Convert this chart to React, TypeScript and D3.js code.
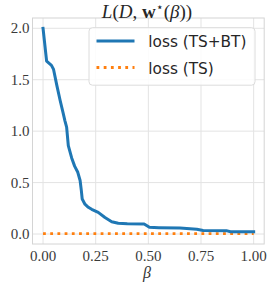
import { useEffect, useRef } from "react"
import * as d3 from "d3"

const betaTS_BT = [0, 0.017, 0.04, 0.05, 0.065, 0.081, 0.095, 0.104, 0.112, 0.12, 0.136, 0.15, 0.165, 0.176, 0.182, 0.186, 0.199, 0.215, 0.231, 0.262, 0.294, 0.326, 0.357, 0.4, 0.48, 0.505, 0.55, 0.65, 0.73, 0.76, 0.87, 0.89, 0.95, 1.0]
const lossTS_BT = [2.0, 1.68, 1.64, 1.6, 1.45, 1.3, 1.18, 1.1, 1.04, 0.86, 0.74, 0.66, 0.6, 0.52, 0.42, 0.34, 0.29, 0.26, 0.24, 0.21, 0.16, 0.12, 0.105, 0.1, 0.097, 0.065, 0.062, 0.058, 0.047, 0.035, 0.033, 0.022, 0.022, 0.022]
const betaTS = [0, 1]
const lossTS = [0.003, 0.003]

const xTicks = [0, 0.25, 0.5, 0.75, 1.0]
const yTicks = [0, 0.5, 1.0, 1.5, 2.0]
const legendLabels = ["loss (TS+BT)", "loss (TS)"]

const BLUE = "#1f77b4"
const ORANGE = "#ff7f0e"

export default function App() {
  const svgRef = useRef<SVGSVGElement | null>(null)

  useEffect(() => {
    document.body.style.margin = "0"
    if (!svgRef.current) return
    const svg = d3.select(svgRef.current)
    svg.selectAll("*").remove()

    const width = 269
    const height = 282
    const box = { left: 32.5, right: 264.2, top: 18, bottom: 244 }

    svg.attr("width", width).attr("height", height).style("display", "block")
    svg.append("rect").attr("width", width).attr("height", height).attr("fill", "#fff")

    const x = d3.scaleLinear().domain([-0.05, 1.05]).range([box.left, box.right])
    const y = d3.scaleLinear().domain([-0.097, 2.1]).range([box.bottom, box.top])

    const grid = svg.append("g").attr("stroke", "#e3e3e3").attr("stroke-width", 1)
    grid
      .selectAll("line.vx")
      .data(xTicks)
      .join("line")
      .attr("x1", (d) => x(d))
      .attr("x2", (d) => x(d))
      .attr("y1", box.top)
      .attr("y2", box.bottom)
    grid
      .selectAll("line.hy")
      .data(yTicks)
      .join("line")
      .attr("class", "hy")
      .attr("x1", box.left)
      .attr("x2", box.right)
      .attr("y1", (d) => y(d))
      .attr("y2", (d) => y(d))

    svg
      .append("rect")
      .attr("x", box.left)
      .attr("y", box.top)
      .attr("width", box.right - box.left)
      .attr("height", box.bottom - box.top)
      .attr("fill", "none")
      .attr("stroke", "#d4d4d4")
      .attr("stroke-width", 1)

    const line = d3
      .line<[number, number]>()
      .x((d) => x(d[0]))
      .y((d) => y(d[1]))

    svg
      .append("path")
      .datum(betaTS.map((b, i) => [b, lossTS[i]] as [number, number]))
      .attr("d", line)
      .attr("fill", "none")
      .attr("stroke", ORANGE)
      .attr("stroke-width", 2.8)
      .attr("stroke-dasharray", "2.8 4.4")

    svg
      .append("path")
      .datum(betaTS_BT.map((b, i) => [b, lossTS_BT[i]] as [number, number]))
      .attr("d", line)
      .attr("fill", "none")
      .attr("stroke", BLUE)
      .attr("stroke-width", 3)
      .attr("stroke-linejoin", "round")
      .attr("stroke-linecap", "square")

    // tick labels
    const tickFont = "'Liberation Serif', serif"
    svg
      .append("g")
      .selectAll("text")
      .data(xTicks)
      .join("text")
      .text((d) => d3.format(".2f")(d))
      .attr("x", (d) => x(d))
      .attr("y", 261)
      .attr("text-anchor", "middle")
      .attr("font-family", tickFont)
      .attr("font-size", 15)
      .attr("fill", "#3a3a3a")
    svg
      .append("g")
      .selectAll("text")
      .data(yTicks)
      .join("text")
      .text((d) => d3.format(".1f")(d))
      .attr("x", 29.5)
      .attr("y", (d) => y(d) + 5)
      .attr("text-anchor", "end")
      .attr("font-family", tickFont)
      .attr("font-size", 15)
      .attr("fill", "#3a3a3a")

    // x label
    svg
      .append("text")
      .text("β")
      .attr("x", 147)
      .attr("y", 277.5)
      .attr("text-anchor", "middle")
      .attr("font-family", tickFont)
      .attr("font-style", "italic")
      .attr("font-size", 16)
      .attr("fill", "#333")

    // title
    const title = svg
      .append("text")
      .attr("x", 147)
      .attr("y", 17.5)
      .attr("text-anchor", "middle")
      .attr("font-family", tickFont)
      .attr("font-size", 19)
      .attr("fill", "#262626")
    title.append("tspan").attr("font-style", "italic").text("L")
    title.append("tspan").text("(")
    title.append("tspan").attr("font-style", "italic").text("D")
    title.append("tspan").text(", ")
    title.append("tspan").attr("font-weight", "bold").text("w")
    title.append("tspan").attr("font-size", 12).attr("dy", -7).text("⋆")
    title.append("tspan").attr("dy", 7).text("(")
    title.append("tspan").attr("font-style", "italic").text("β")
    title.append("tspan").text("))")

    // legend
    const lg = svg.append("g")
    lg.append("rect")
      .attr("x", 89)
      .attr("y", 27.7)
      .attr("width", 166)
      .attr("height", 57.5)
      .attr("rx", 3.5)
      .attr("fill", "#fff")
      .attr("fill-opacity", 0.85)
      .attr("stroke", "#dcdcdc")
      .attr("stroke-width", 1)
    const entries = [
      { label: legendLabels[0], color: BLUE, dash: null as string | null, y: 41 },
      { label: legendLabels[1], color: ORANGE, dash: "2.8 4.4", y: 67.5 },
    ]
    entries.forEach((e) => {
      lg.append("line")
        .attr("x1", 96.5)
        .attr("x2", 134.5)
        .attr("y1", e.y)
        .attr("y2", e.y)
        .attr("stroke", e.color)
        .attr("stroke-width", e.dash ? 2.8 : 3)
        .attr("stroke-dasharray", e.dash)
      lg.append("text")
        .text(e.label)
        .attr("x", 148.3)
        .attr("y", e.y + 6)
        .attr("font-family", "'DejaVu Sans', sans-serif")
        .attr("font-size", 15.3)
        .attr("fill", "#262626")
    })
  }, [])

  return <svg ref={svgRef} />
}
